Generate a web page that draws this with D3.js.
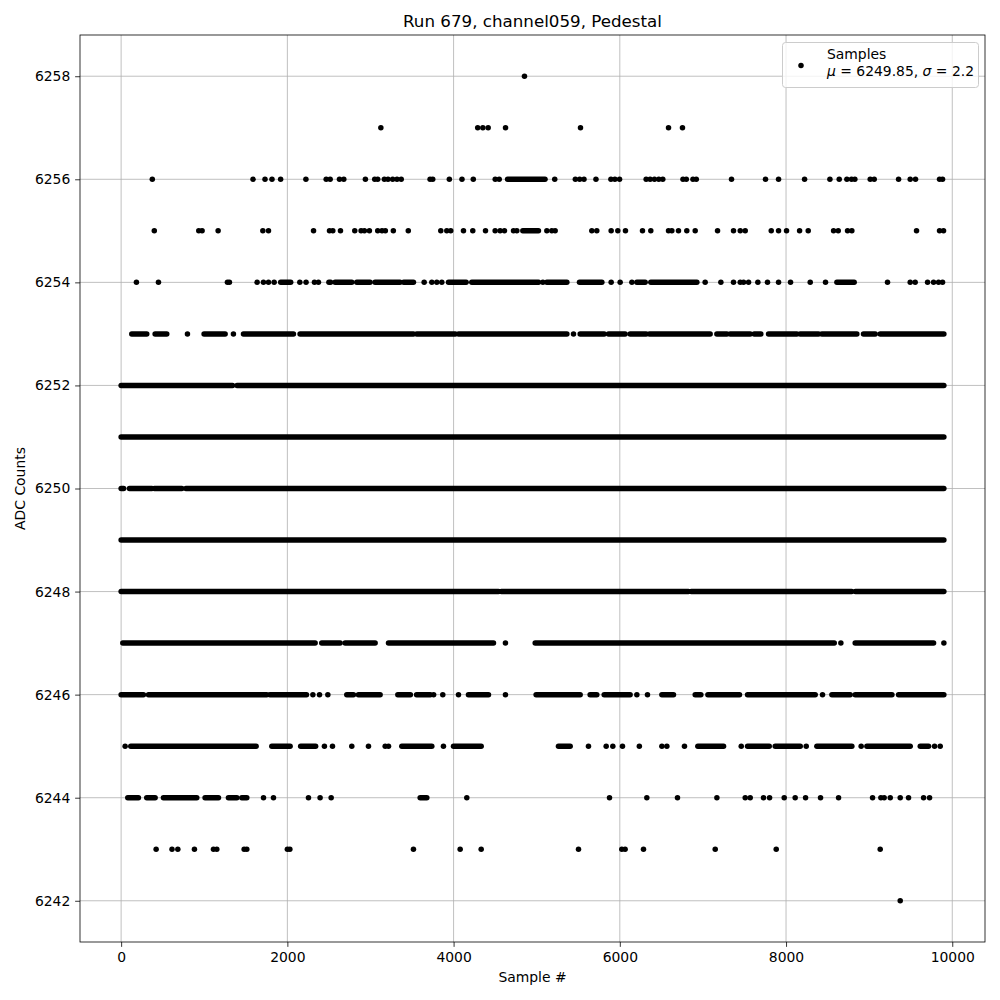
<!DOCTYPE html>
<html>
<head>
<meta charset="utf-8">
<script src="https://cdn.jsdelivr.net/npm/d3@7/dist/d3.min.js"></script>
<style>
  body { margin: 0; background: #fff; }
  text { font-family: "DejaVu Sans", sans-serif; }
</style>
</head>
<body>
<svg id="chart" width="1000" height="1000"></svg>
<script>
// Sample indices, one array per ADC level.
// A plain number is a single dot, a [start, end] pair is a run of dots that merge together.
var s6258 = [4853];
var s6257 = [3125, 4290, 4352, 4416, 4625, 5527, 6586, 6754];
var s6256 = [375, 1587, 1731, 1815, 1919, 2223, 2467, 2515, 2627, 2679, 2939, 3051, 3087, 3167, 3211, 3267, 3319, 3370,
  3717, 3749, 3949, 4101, 4237, 4501, 4549, [4650, 5100], 5217, 5465, 5517, 5569, 5713, 5893, 5941, 5997,
  6317, 6365, 6417, 6469, 6517, 6760, 6800, 6880, 6920, 7344, 7753, 7910, 8223, 8528, 8640, 8732, 8788, 8828,
  9013, 9061, 9354, 9494, 9558, 9847, 9883];
var s6255 = [399, 934, 974, 1167, 1705, 1773, 2315, 2507, 2547, 2639, 2811, 2887, 2927, 2987, 3087, 3139, 3179, 3275,
  3455, 3846, 3918, 3966, 4119, 4231, 4384, 4500, 4560, 4612, 4721, 4761, [4833, 5021], 5122, 5182, 5222, 5663, 5723,
  5896, 5976, 6068, 6273, 6373, 6586, 6626, 6706, 6806, 6907, 7176, 7368, 7449, 7509, 7822, 7910, 8006, 8163, 8267,
  8572, 8628, 8740, 8792, 9570, 9847, 9895];
var s6254 = [184, 449, 1279, 1303, 1636, 1712, 1773, 1841, [1920, 2040], 2150, 2225, 2326, 2374, [2500, 2520],
  [2575, 2775], [2835, 2995], [3055, 3355], [3400, 3517], 3646, 3738, 3798, 3858, [3939, 4151], [4219, 5022], 5074,
  [5122, 5363], [5515, 5784], 5896, 6004, 6145, [6205, 6305], [6373, 6927], 7027, 7216, 7368, 7449, 7489, 7549, 7661,
  7777, 7910, 8054, 8291, 8475, [8612, 8820], 9221, 9494, 9554, 9703, 9775, 9835, 9883];
var s6253 = [[128, 308], [409, 549], 798, [998, 1251], 1351, [1472, 2073], [2153, 3517], [3557, 4019], [4059, 5363],
  5443, [5523, 5812], [5864, 6064], [6124, 6317], [6357, 7087], [7168, 7288], [7328, 7569], [7617, 7697], [7790, 8130],
  [8170, 8391], [8431, 8852], [8932, 9073], [9133, 9899]];
var s6252 = [[0, 1340], [1395, 9899]];
var s6251 = [[0, 1470], [1495, 9899]];
var s6250 = [[0, 30], [100, 370], [400, 730], [780, 9899]];
var s6249 = [[0, 9899]];
var s6248 = [[0, 4540], [4575, 6825], [6860, 8790], [8835, 9899]];
var s6247 = [[20, 2334], [2414, 2635], [2695, 3056], [3217, 4480], 4624, [4982, 8580], 8660, [8832, 9775], 9899];
var s6246 = [[0, 268], [329, 1752], [1790, 2230], 2307, 2387, 2487, [2715, 2795], [2855, 3116], [3329, 3480],
  [3555, 3720], 3760, 3870, 4059, [4179, 4420], 4624, [4993, 5523], [5643, 5723], [5812, 6124], 6205, 6333,
  [6506, 6646], [6907, 6975], [7060, 7440], [7537, 8351], 8439, [8552, 8772], [8832, 9274], [9354, 9899]];
var s6245 = [48, [116, 1624], [1813, 2033], [2160, 2340], 2446, 2543, 2775, 2976, 3177, 3217, [3377, 3738], 3878,
  [3999, 4332], [5262, 5403], 5623, 5836, 5916, 6032, 6235, 6506, 6566, 6778, [6939, 7248], 7461, [7537, 7798],
  [7870, 8171], 8243, [8371, 8792], 8904, [8973, 9494], [9615, 9715], 9787, 9855];
var s6244 = [[80, 208], [308, 409], [509, 910], [1010, 1171], [1291, 1392], [1452, 1512], 1713, 1833, 2254, 2394, 2527,
  [3598, 3678], 4159, 5876, 6325, 6694, 7168, 7509, 7569, 7729, 7802, 7978, 8110, 8235, 8415, 8632, 9041, 9141, 9181,
  9254, 9374, 9474, 9655, 9727];
var s6243 = [421, 612, 682, 882, 1111, 1151, 1480, 1512, 2000, 2030, 3517, 4079, 4332, 5503, 6024, 6064, 6285, 7148,
  7882, 9133];
var s6242 = [9374];

var levelValues = [6242, 6243, 6244, 6245, 6246, 6247, 6248, 6249, 6250, 6251, 6252, 6253, 6254, 6255, 6256, 6257, 6258];
var levelSamples = [s6242, s6243, s6244, s6245, s6246, s6247, s6248, s6249, s6250, s6251, s6252, s6253, s6254,
  s6255, s6256, s6257, s6258];

var xTicks = [0, 2000, 4000, 6000, 8000, 10000];
var yTicks = [6242, 6244, 6246, 6248, 6250, 6252, 6254, 6256, 6258];
var sampleRange = [0, 9899];

var titleText = "Run 679, channel059, Pedestal";
var xLabel = "Sample #";
var yLabel = "ADC Counts";
var meanText = "6249.85";
var sigmaText = "2.2";

(function(){
  var svg = d3.select("#chart");
  var pLeft = 80, pRight = 985, pTop = 35, pBottom = 942;
  var w = pRight - pLeft, h = pBottom - pTop;

  // matplotlib style 5% margins
  var xPad = (sampleRange[1] - sampleRange[0]) * 0.05;
  var yMin = d3.min(levelValues), yMax = d3.max(levelValues);
  var yPad = (yMax - yMin) * 0.05;

  var x = d3.scaleLinear().domain([sampleRange[0] - xPad, sampleRange[1] + xPad]).range([pLeft, pRight]);
  var y = d3.scaleLinear().domain([yMin - yPad, yMax + yPad]).range([pBottom, pTop]);

  var tick = 3.5 * 100 / 72;

  // grid
  var grid = svg.append("g");
  grid.selectAll("line.gx").data(xTicks).enter().append("line")
    .attr("x1", function(d){ return x(d); }).attr("x2", function(d){ return x(d); })
    .attr("y1", pTop).attr("y2", pBottom)
    .attr("stroke", "#b0b0b0").attr("stroke-width", 0.8);
  grid.selectAll("line.gy").data(yTicks).enter().append("line")
    .attr("x1", pLeft).attr("x2", pRight)
    .attr("y1", function(d){ return y(d); }).attr("y2", function(d){ return y(d); })
    .attr("stroke", "#b0b0b0").attr("stroke-width", 0.8);

  // points
  var rDot = 2.75;
  var marks = svg.append("g");
  levelSamples.forEach(function(list, i){
    var v = levelValues[i];
    list.forEach(function(s){
      if (Array.isArray(s)) {
        marks.append("line")
          .attr("x1", x(s[0])).attr("x2", x(s[1]))
          .attr("y1", y(v)).attr("y2", y(v))
          .attr("stroke", "#000").attr("stroke-width", rDot * 2)
          .attr("stroke-linecap", "round");
      } else {
        marks.append("circle")
          .attr("cx", x(s)).attr("cy", y(v)).attr("r", rDot)
          .attr("fill", "#000");
      }
    });
  });

  // axes
  var xAxis = d3.axisBottom(x).tickValues(xTicks).tickFormat(d3.format("d"))
    .tickSizeInner(tick).tickSizeOuter(0).tickPadding(tick);
  var yAxis = d3.axisLeft(y).tickValues(yTicks).tickFormat(d3.format("d"))
    .tickSizeInner(tick).tickSizeOuter(0).tickPadding(tick);

  var gx = svg.append("g").attr("transform", "translate(0," + pBottom + ")").call(xAxis);
  var gy = svg.append("g").attr("transform", "translate(" + pLeft + ",0)").call(yAxis);
  [gx, gy].forEach(function(g){
    g.select(".domain").remove();
    g.selectAll("line").attr("stroke", "#000").attr("stroke-width", 0.8);
    g.selectAll("text").attr("font-size", "13.9px").attr("fill", "#000")
      .attr("font-family", "DejaVu Sans, sans-serif");
  });

  svg.append("rect")
    .attr("x", pLeft).attr("y", pTop).attr("width", w).attr("height", h)
    .attr("fill", "none").attr("stroke", "#000").attr("stroke-width", 0.8);

  // labels
  svg.append("text").attr("x", (pLeft + pRight) / 2).attr("y", 27)
    .attr("text-anchor", "middle").attr("font-size", "16.7px").text(titleText);
  svg.append("text").attr("x", (pLeft + pRight) / 2).attr("y", 982)
    .attr("text-anchor", "middle").attr("font-size", "13.9px").text(xLabel);
  svg.append("text").attr("transform", "translate(25," + ((pTop + pBottom) / 2) + ") rotate(-90)")
    .attr("text-anchor", "middle").attr("font-size", "13.9px").text(yLabel);

  // legend
  var lg = svg.append("g");
  lg.append("rect").attr("x", 782.5).attr("y", 42.5).attr("width", 196).attr("height", 45)
    .attr("rx", 3).attr("fill", "#fff").attr("fill-opacity", 0.8)
    .attr("stroke", "#cccccc").attr("stroke-width", 1);
  lg.append("circle").attr("cx", 801).attr("cy", 65.5).attr("r", rDot).attr("fill", "#000");
  lg.append("text").attr("x", 827).attr("y", 59).attr("font-size", "13.9px").text("Samples");
  var t2 = lg.append("text").attr("x", 827).attr("y", 76).attr("font-size", "13.9px");
  t2.append("tspan").attr("font-style", "italic").text("\u03bc");
  t2.append("tspan").text(" = " + meanText + ", ");
  t2.append("tspan").attr("font-style", "italic").text("\u03c3");
  t2.append("tspan").text(" = " + sigmaText);
})();
</script>
</body>
</html>
